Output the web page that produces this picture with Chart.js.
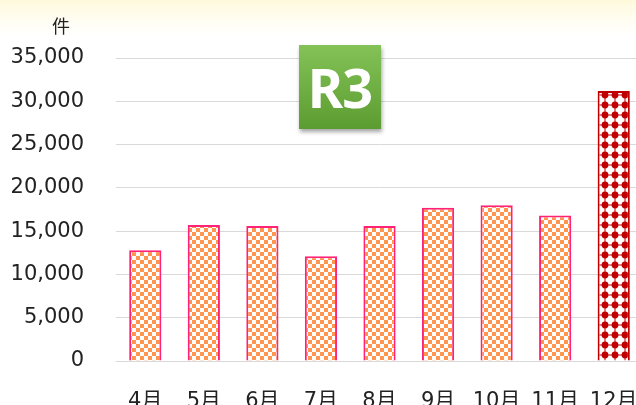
<!DOCTYPE html>
<html>
<head>
<meta charset="utf-8">
<script src="https://cdn.jsdelivr.net/npm/chart.js@4.4.1/dist/chart.umd.min.js"></script>
<style>
  html, body { margin: 0; padding: 0; }
  body {
    width: 636px; height: 405px; overflow: hidden; position: relative;
    background: linear-gradient(#fff9dc 0px, #fffdf0 18px, #ffffff 36px);
  }
  #wrap { position: absolute; left: 0; top: 0; width: 646px; height: 405px; }
  #badge {
    position: absolute; left: 299px; top: 45px; width: 82px; height: 84px;
    background: linear-gradient(#84c257, #5b9c31);
    box-shadow: 1px 3px 4px rgba(0,0,0,0.35);
    color: #fff; font: 700 54px "Noto Sans", sans-serif;
    text-align: center; line-height: 84px; letter-spacing: -1px;
  }
</style>
</head>
<body>
<div id="wrap"><canvas id="myChart"></canvas></div>
<div id="badge">R3</div>
<script>
  var months = ["4月", "5月", "6月", "7月", "8月", "9月", "10月", "11月", "12月"];
  var counts = [12800, 15700, 15600, 12100, 15600, 17700, 18000, 16800, 31200];
  var yTicks = [0, 5000, 10000, 15000, 20000, 25000, 30000, 35000];
  var unitLabel = "件";

  function checkerPattern() {
    var c = document.createElement("canvas");
    c.width = 8; c.height = 8;
    var g = c.getContext("2d");
    g.fillStyle = "#ffffff";
    g.fillRect(0, 0, 8, 8);
    g.fillStyle = "#ff9650";
    g.fillRect(0, 0, 4, 4);
    g.fillRect(4, 4, 4, 4);
    return g.createPattern(c, "repeat");
  }

  function dotPattern() {
    var c = document.createElement("canvas");
    c.width = 10; c.height = 10;
    var g = c.getContext("2d");
    g.fillStyle = "#ffffff";
    g.fillRect(0, 0, 10, 10);
    g.fillStyle = "#c00000";
    g.beginPath();
    g.arc(5, 5, 3.4, 0, Math.PI * 2);
    g.fill();
    g.fillRect(4.5, 0, 1, 10);
    g.fillRect(0, 4.5, 10, 1);
    return g.createPattern(c, "repeat");
  }

  var checker = checkerPattern();
  var dots = dotPattern();
  var last = months.length - 1;

  var unitPlugin = {
    id: "unit",
    afterDraw: function(chart) {
      var ctx = chart.ctx;
      ctx.save();
      ctx.fillStyle = "#222222";
      ctx.font = "18px 'Noto Sans CJK JP'";
      ctx.textAlign = "center";
      ctx.textBaseline = "middle";
      ctx.fillText(unitLabel, 61, 26);
      ctx.restore();
    }
  };

  var myChart = new Chart(document.getElementById("myChart"), {
    type: "bar",
    data: {
      labels: months,
      datasets: [{
        data: counts,
        backgroundColor: counts.map(function(v, i){ return i === last ? dots : checker; }),
        borderColor: counts.map(function(v, i){ return i === last ? "#c00000" : "#ff2277"; }),
        borderWidth: 2,
        barPercentage: 0.55,
        categoryPercentage: 1.0
      }]
    },
    options: {
      responsive: true,
      maintainAspectRatio: false,
      animation: false,
      layout: { padding: { top: 58, right: 3, left: 0, bottom: 0 } },
      plugins: { legend: { display: false }, tooltip: { enabled: false } },
      scales: {
        x: {
          grid: { display: false },
          border: { display: false },
          ticks: {
            color: "#222222",
            font: { family: "'DejaVu Sans', 'Noto Sans CJK JP'", size: 21 },
            padding: 20,
            maxRotation: 0,
            autoSkip: false
          },
          afterFit: function(s) { s.height = 44; s.paddingLeft = 0; s.paddingRight = 0; }
        },
        y: {
          min: 0,
          max: 35000,
          grid: { color: "#d9d9d9", lineWidth: 1, drawTicks: false },
          border: { display: false },
          afterBuildTicks: function(s) { s.ticks = yTicks.map(function(v){ return { value: v }; }); },
          ticks: {
            color: "#222222",
            font: { family: "'DejaVu Sans'", size: 21 },
            padding: 32,
            callback: function(v) { return v.toLocaleString("en-US"); }
          },
          afterFit: function(s) { s.width = 116; s.paddingTop = 0; s.paddingBottom = 0; }
        }
      }
    },
    plugins: [unitPlugin]
  });
</script>
</body>
</html>
